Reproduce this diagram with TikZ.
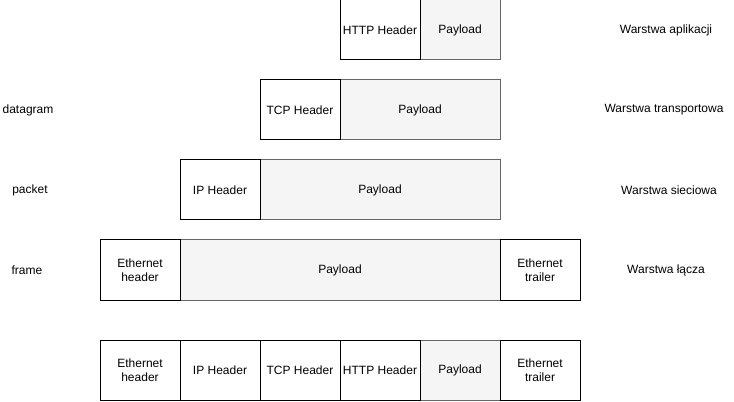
\documentclass[tikz,border=0pt]{standalone}
\usepackage{fontspec}
\setmainfont{Liberation Sans}
\usepackage{tikz}
\usetikzlibrary{positioning}
\definecolor{payloadfill}{HTML}{F5F5F5}
\definecolor{payloaddraw}{HTML}{666666}

\begin{document}
\begin{tikzpicture}[
    x=0.75pt, y=-0.75pt,
    hdrbox/.style={
        rectangle, draw=black, fill=white, line width=0.75pt,
        minimum height=45pt, inner sep=0pt,
        align=center, font=\fontsize{9}{10.5}\selectfont
    },
    paybox/.style={
        hdrbox, draw=payloaddraw, fill=payloadfill
    },
    lbl/.style={font=\fontsize{9}{10.5}\selectfont, align=center}
]
\useasboundingbox (0,0) rectangle (734,402);

% Application layer
\node[paybox, minimum width=60pt] (apay) at (460,30) {Payload};
\node[hdrbox, minimum width=60pt] (ahttp) at (380,30) {HTTP Header};

% Transport layer
\node[paybox, minimum width=120pt] (tpay) at (420,110) {Payload};
\node[hdrbox, minimum width=60pt] (ttcp) at (300,110) {TCP Header};

% Network layer
\node[paybox, minimum width=180pt] (npay) at (380,190) {Payload};
\node[hdrbox, minimum width=60pt] (nip) at (220,190) {IP Header};

% Link layer
\node[paybox, minimum width=240pt] (lpay) at (340,270) {Payload};
\node[hdrbox, minimum width=60pt] (leth) at (140,270) {Ethernet\\header};
\node[hdrbox, minimum width=60pt] (ltrl) at (540,270) {Ethernet\\trailer};

% Full frame
\node[paybox, minimum width=60pt] (fpay) at (460,370) {Payload};
\node[hdrbox, minimum width=60pt] (feth) at (140,370) {Ethernet\\header};
\node[hdrbox, minimum width=60pt] (fip) at (220,370) {IP Header};
\node[hdrbox, minimum width=60pt] (ftcp) at (300,370) {TCP Header};
\node[hdrbox, minimum width=60pt] (fhttp) at (380,370) {HTTP Header};
\node[hdrbox, minimum width=60pt] (ftrl) at (540,370) {Ethernet\\trailer};

% PDU names
\node[lbl] (ndatagram) at (28,110) {datagram};
\node[lbl] (npacket) at (30,190) {packet};
\node[lbl] (nframe) at (27,270) {frame};

% Layer names
\node[lbl] (wapp) at (666,30) {Warstwa aplikacji};
\node[lbl] (wtrans) at (664,110) {Warstwa transportowa};
\node[lbl] (wnet) at (669,190) {Warstwa sieciowa};
\node[lbl] (wlink) at (666,270) {Warstwa łącza};

\end{tikzpicture}
\end{document}
